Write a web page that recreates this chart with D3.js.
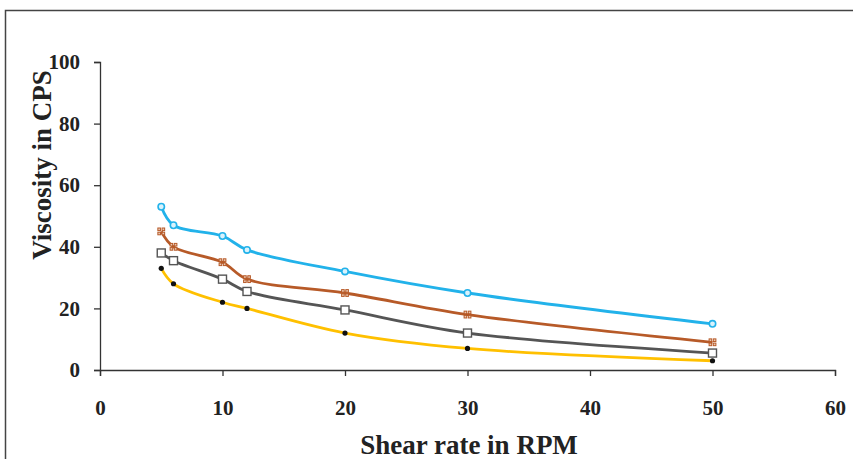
<!DOCTYPE html>
<html>
<head>
<meta charset="utf-8">
<script src="https://cdn.jsdelivr.net/npm/d3@7"></script>
<style>
  body { margin: 0; background: #fff; }
  svg { display: block; }
</style>
</head>
<body>
<div id="chart"></div>
<script>
// shear rate (RPM) and viscosity readings, one array per curve
const rpm = [5, 6, 10, 12, 20, 30, 50];
const blueVals = [53, 47, 43.5, 39, 32, 25, 15];
const brownVals = [45, 40, 35, 29.5, 25, 18, 9];
const grayVals = [38, 35.5, 29.5, 25.5, 19.5, 12, 5.5];
const yellowVals = [33, 28, 22, 20, 12, 7, 3];
const xTicks = [0, 10, 20, 30, 40, 50, 60];
const yTicks = [0, 20, 40, 60, 80, 100];

const width = 853, height = 459;
const svg = d3.select("#chart").append("svg")
    .attr("width", width)
    .attr("height", height);

// outer frame
svg.append("rect")
    .attr("x", 5.5).attr("y", 10.5)
    .attr("width", 860).attr("height", 470)
    .attr("fill", "none")
    .attr("stroke", "#444")
    .attr("stroke-width", 1.5);

const x = d3.scaleLinear().domain([0, 60]).range([100, 835]);
const y = d3.scaleLinear().domain([0, 100]).range([370, 62]);

const serif = "'Liberation Serif', 'DejaVu Serif', serif";

const xAxis = svg.append("g")
    .attr("transform", "translate(0,370)")
    .call(d3.axisBottom(x).tickValues(xTicks).tickSize(6).tickPadding(24));
const yAxis = svg.append("g")
    .attr("transform", "translate(100,0)")
    .call(d3.axisLeft(y).tickValues(yTicks).tickSize(6).tickPadding(14));

[xAxis, yAxis].forEach(a => {
    a.select(".domain").attr("stroke", "#333").attr("stroke-width", 1.3);
    a.selectAll(".tick line").attr("stroke", "#333").attr("stroke-width", 1.3);
    a.selectAll(".tick text")
        .attr("fill", "#222")
        .style("font-family", serif)
        .style("font-weight", "bold")
        .style("font-size", "21px");
});

const series = [
    { vals: blueVals, color: "#22b2ea", marker: "circle" },
    { vals: brownVals, color: "#b75a28", marker: "hash" },
    { vals: grayVals, color: "#555555", marker: "square" },
    { vals: yellowVals, color: "#ffc000", marker: "dot" }
];

const line = d3.line()
    .x(d => x(d[0]))
    .y(d => y(d[1]))
    .curve(d3.curveCatmullRom.alpha(0.5));

series.forEach(s => {
    const pts = rpm.map((r, i) => [r, s.vals[i]]);
    svg.append("path")
        .datum(pts)
        .attr("fill", "none")
        .attr("stroke", s.color)
        .attr("stroke-width", 2.8)
        .attr("d", line);

    const g = svg.append("g");
    pts.forEach(p => {
        const cx = x(p[0]), cy = y(p[1]);
        if (s.marker === "circle") {
            g.append("circle").attr("cx", cx).attr("cy", cy).attr("r", 3.2)
                .attr("fill", "#d9f2fc").attr("stroke", s.color).attr("stroke-width", 1.6);
        } else if (s.marker === "hash") {
            [[-3.4, -3.4], [0.8, -3.4], [-3.4, 0.8], [0.8, 0.8]].forEach(o => {
                g.append("rect").attr("x", cx + o[0]).attr("y", cy + o[1])
                    .attr("width", 2.6).attr("height", 2.6)
                    .attr("fill", "#e9c9b4")
                    .attr("stroke", s.color).attr("stroke-width", 1);
            });
        } else if (s.marker === "square") {
            g.append("rect").attr("x", cx - 4).attr("y", cy - 4)
                .attr("width", 8).attr("height", 8)
                .attr("fill", "#fff").attr("stroke", s.color).attr("stroke-width", 1.4);
        } else {
            g.append("circle").attr("cx", cx).attr("cy", cy).attr("r", 2.6)
                .attr("fill", "#111");
        }
    });
});

// axis titles
svg.append("text")
    .attr("x", 469).attr("y", 454)
    .attr("text-anchor", "middle")
    .style("font-family", serif)
    .style("font-weight", "bold")
    .style("font-size", "27px")
    .attr("fill", "#222")
    .text("Shear rate in RPM");

svg.append("text")
    .attr("transform", "translate(51,165) rotate(-90)")
    .attr("text-anchor", "middle")
    .style("font-family", serif)
    .style("font-weight", "bold")
    .style("font-size", "27px")
    .attr("fill", "#222")
    .text("Viscosity in CPS");
</script>
</body>
</html>
